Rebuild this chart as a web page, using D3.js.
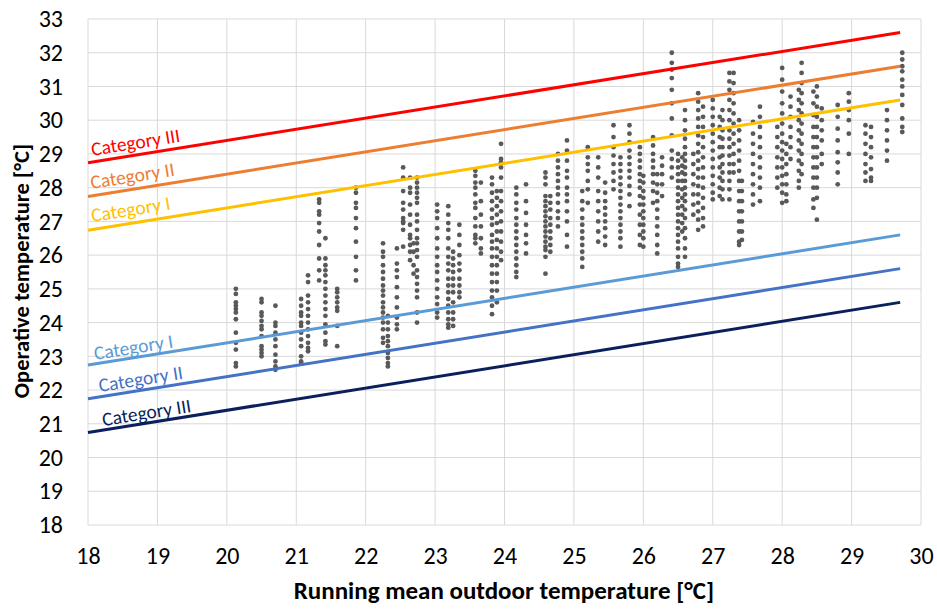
<!DOCTYPE html>
<html><head><meta charset="utf-8">
<script src="https://cdn.jsdelivr.net/npm/d3@7/dist/d3.min.js"></script>
<style>
body{margin:0;background:#fff;}
svg text{font-family:Carlito,Lato,"Open Sans",sans-serif;}
</style></head>
<body><svg id="c" width="937" height="610"></svg>
<script>
// ---- data ----
const xTicks = [18,19,20,21,22,23,24,25,26,27,28,29,30];
const yTicks = [18,19,20,21,22,23,24,25,26,27,28,29,30,31,32,33];

const lineNames  = ["Category III","Category II","Category I","Category I","Category II","Category III"];
const lineColors = ["#FF0000","#ED7D31","#FFC000","#5B9BD5","#4472C4","#0B1F5C"];
const lineStartX = [18,18,18,18,18,18];
const lineEndX   = [29.7,29.7,29.7,29.7,29.7,29.7];
const lineStartY = [28.74,27.74,26.74,22.74,21.74,20.74];
const lineEndY   = [32.6,31.6,30.6,26.6,25.6,24.6];
const labelX     = [18.06,18.05,18.06,18.1,18.17,18.22];
const labelY     = [28.94,27.96,26.98,22.89,21.94,20.93];

const dotX = [20.13,20.5,20.7,21.07,21.17,21.33,21.42,21.59,21.86,22.25,22.32,22.45,22.54,22.64,22.69,22.74,
  23.03,23.19,23.26,23.35,23.58,23.66,23.82,23.89,23.95,24.17,24.31,24.59,24.66,24.77,24.9,
  25.12,25.2,25.35,25.45,25.57,25.67,25.8,25.95,26.0,26.14,26.2,26.27,26.41,26.5,26.56,26.6,26.72,26.79,26.86,
  27.0,27.1,27.14,27.24,27.3,27.38,27.42,27.58,27.68,27.93,28.0,28.06,28.12,28.24,28.28,28.45,28.5,28.57,
  28.8,28.96,29.2,29.28,29.51,29.73];
const dotY = [
  [25.0,24.85,24.6,24.5,24.4,24.3,24.1,23.7,23.4,23.2,22.8,22.7],
  [24.7,24.6,24.3,24.2,24.05,23.9,23.8,23.6,23.3,23.2,23.1,23.0],
  [24.5,24.0,23.9,23.7,23.5,23.3,23.05,22.85,22.7,22.6],
  [24.7,24.5,24.3,24.2,24.0,23.9,23.7,23.5,23.3,23.0,22.85,22.8],
  [25.4,25.2,24.8,24.6,24.4,24.2,24.0,23.8,23.6,23.4,23.25,23.15],
  [27.65,27.55,27.3,27.2,26.95,26.7,26.3,25.9,25.55,25.25],
  [26.5,25.9,25.7,25.55,25.4,25.2,25.0,24.8,24.6,24.4,24.2,23.95,23.7,23.45,23.35],
  [25.0,24.9,24.75,24.6,24.45,24.35,23.9,23.3],
  [28.0,27.85,27.55,27.4,27.1,26.8,26.4,25.95,25.55,25.25],
  [26.35,26.1,25.95,25.7,25.5,25.3,25.1,24.95,24.8,24.6,24.45,24.3,24.15,24.0,23.8,23.55,23.4],
  [24.2,24.0,23.8,23.6,23.45,23.3,23.1,22.95,22.8,22.7],
  [26.2,25.75,25.55,25.35,25.05,24.75,24.45,24.15,23.95,23.8],
  [28.6,28.3,27.9,27.55,27.35,27.1,27.0,26.95,26.75,26.25],
  [28.3,28.0,27.85,27.5,27.2,26.9,26.6,26.5,26.3,26.1,25.85],
  [26.35,26.1,25.7,25.45],
  [28.3,28.15,28.0,27.85,27.7,27.55,27.2,27.0,26.75,26.5,26.35,26.15,25.95,25.55,25.35,25.15,24.95,24.75,24.3,24.0],
  [27.5,27.3,27.1,26.8,26.5,26.2,25.95,25.7,25.5,25.25,25.0,24.75,24.55,24.3,24.15],
  [27.45,27.2,26.95,26.75,26.5,26.2,25.95,25.75,25.55,25.3,25.1,24.9,24.7,24.5,24.3,24.1,23.95,23.85],
  [26.1,25.9,25.7,25.5,25.3,25.1,24.9,24.6,24.3,24.1,23.9],
  [26.9,26.6,26.3,26.0,25.75,25.55,25.3,25.1,24.9,24.75],
  [28.5,28.35,28.15,28.0,27.8,27.55,27.4,27.1,26.85,26.6,26.5,26.35],
  [28.15,27.6,27.2,26.85,26.5,26.2,26.05],
  [28.3,28.1,27.85,27.6,27.35,27.1,26.9,26.6,26.4,26.2,25.95,25.7,25.45,25.2,24.95,24.75,24.5,24.25],
  [27.9,27.7,27.45,27.2,26.95,26.7,26.45,26.2,25.95,25.7,25.45,25.2,24.95,24.6],
  [29.3,28.85,28.75,28.6,28.3,27.9,27.6,27.3,27.0,26.7,26.4,26.1,25.85],
  [28.0,27.8,27.55,27.35,27.1,26.9,26.7,26.5,26.3,26.1,25.9,25.7,25.5,25.35],
  [28.1,27.6,27.25,26.9,26.6,26.35,26.05],
  [28.45,28.3,28.1,27.75,27.6,27.45,27.3,27.15,27.0,26.85,26.7,26.55,26.4,26.25,26.15,25.95,25.45],
  [27.75,27.55,27.35,27.1,26.9,26.7,26.5,26.3,26.1],
  [29.0,28.8,28.6,28.4,28.2,28.0,27.8,27.55,27.3,27.1,26.85],
  [29.4,29.1,28.8,28.5,28.3,28.0,27.8,27.6,27.3,27.0,26.6,26.25],
  [27.9,27.6,27.35,27.1,26.9,26.7,26.5,26.3,26.1,25.9,25.65],
  [29.2,28.9,28.7,28.5,28.2,27.95,27.55],
  [28.9,28.6,28.3,27.9,27.6,27.3,27.0,26.7,26.4],
  [28.15,27.85,27.6,27.4,27.2,27.0,26.8,26.55,26.3],
  [29.85,29.5,29.2,28.95,28.7,28.45,28.2,27.95],
  [28.9,28.7,28.5,28.3,28.1,27.9,27.7,27.5,27.3,27.1,26.9,26.7,26.5,26.25],
  [29.85,29.6,29.35,29.1,28.9,28.7,28.5,28.3,28.05,27.8,27.45],
  [29.2,29.0,28.8,28.6,28.4,28.2,28.0,27.75,27.5,27.2,26.9,26.6,26.3],
  [28.35,28.15,27.9,27.7,27.5,27.3,27.1,26.9,26.7,26.5,26.25],
  [29.5,29.25,29.0,28.8,28.6,28.4,28.15,27.9,27.55],
  [28.4,28.1,27.85,27.6,27.35,27.1,26.85,26.6,26.3,26.05],
  [28.9,28.65,28.4,28.1,27.75],
  [32.0,31.7,31.5,31.25,30.9,30.5,30.05,29.55,29.1,28.85,28.6,28.3],
  [29.0,28.8,28.6,28.4,28.2,28.0,27.8,27.6,27.4,27.2,27.0,26.8,26.6,26.4,26.2,25.95,25.75,25.65],
  [28.9,28.65,28.45,28.2,27.95,27.7,27.45,27.2,26.95,26.7],
  [30.3,30.0,29.7,29.45,29.2,29.0,28.8,28.6,28.4,28.2,28.0,27.8,27.6,27.35,27.1,26.8,26.5,26.2,25.95],
  [29.0,28.7,28.4,28.1,27.8,27.5,27.2],
  [30.8,30.55,30.3,30.05,29.8,29.55,29.3,29.05,28.8,28.55,28.3,28.05,27.8,27.55,27.3,27.05,26.75],
  [30.4,30.1,29.8,29.5,29.2,28.9,28.6,28.3,28.0,27.7,27.4,27.1,26.85],
  [30.6,30.35,30.1,29.85,29.6,29.35,29.1,28.85,28.6,28.35,28.1,27.85,27.65],
  [30.1,29.8,29.5,29.2,28.9,28.6,28.3,28.0,27.75],
  [30.3,30.0,29.7,29.45,29.2,28.95,28.7,28.45,28.2,27.95,27.65],
  [31.4,31.15,30.9,30.6,30.3,30.0,29.7,29.45,29.2,28.95,28.7,28.45,28.2,27.95,27.65],
  [31.4,31.1,30.8,30.5,30.2,29.9,29.6,29.3,29.0,28.7,28.45],
  [30.0,29.7,29.4,29.1,28.8,28.5,28.2,27.9,27.6,27.3,27.0,26.7,26.4,26.3],
  [28.2,27.9,27.6,27.3,27.0,26.7,26.45],
  [29.95,29.6,29.3,29.0,28.7,28.4,28.1,27.8,27.5],
  [30.4,30.1,29.8,29.5,29.2,28.9,28.6,28.3,28.0,27.6],
  [29.8,29.5,29.2,28.9,28.6,28.3,28.0],
  [31.55,31.2,30.85,30.5,30.2,29.9,29.6,29.35,29.1,28.85,28.6,28.35,28.1,27.85,27.55],
  [29.3,29.0,28.7,28.4,28.1,27.8,27.6],
  [30.7,30.4,30.1,29.8,29.5,29.2,28.85],
  [30.9,30.6,30.3,30.0,29.7,29.4,29.1,28.8,28.5,28.2,28.0],
  [31.7,31.4,31.1,30.8,30.5,30.2,29.9,29.6,29.3,29.0,28.7,28.4],
  [30.85,30.5,30.15,29.8,29.5,29.2,28.9,28.6,28.3,28.0,27.65,27.4],
  [31.0,30.7,30.4,30.1,29.8,29.5,29.2,28.9,28.6,28.3,28.0,27.7,27.05],
  [30.35,30.0,29.7,29.4,29.0,28.7],
  [30.45,30.1,29.75,29.4,29.05,28.75,28.45,28.1],
  [30.8,30.55,30.3,30.0,29.6,29.0],
  [29.85,29.6,29.3,29.0,28.7,28.45,28.2],
  [29.8,29.5,29.2,28.9,28.55,28.3,28.2],
  [30.3,30.0,29.7,29.4,29.1,28.8],
  [32.0,31.8,31.6,31.45,31.2,31.0,30.75,30.45,30.05,29.8,29.65]
];

const xTitle = "Running mean outdoor temperature [°C]";
const yTitle = "Operative temperature [°C]";

// ---- chart ----
const svg = d3.select("#c");
const m = {l:88, r:15, t:19, b:85};
const W = 937, H = 610;
const x = d3.scaleLinear().domain([18,30]).range([m.l, W - m.r - 1]);
const y = d3.scaleLinear().domain([18,33]).range([H - m.b, m.t]);

const grid = svg.append("g");
grid.selectAll("line.v").data(xTicks).join("line")
  .attr("x1", d=>x(d)).attr("x2", d=>x(d)).attr("y1", y(18)).attr("y2", y(33))
  .attr("stroke", "#d9d9d9").attr("stroke-width", 1);
grid.selectAll("line.h").data(yTicks).join("line")
  .attr("y1", d=>y(d)).attr("y2", d=>y(d)).attr("x1", x(18)).attr("x2", x(30))
  .attr("stroke", "#d9d9d9").attr("stroke-width", 1);

const xAxis = svg.append("g").attr("transform", `translate(0,${y(18)})`)
  .call(d3.axisBottom(x).tickValues(xTicks).tickSize(0).tickPadding(22).tickFormat(d3.format("d")));
xAxis.select(".domain").remove();
xAxis.selectAll("text").attr("font-size", 24).attr("fill", "#000");

const yAxis = svg.append("g").attr("transform", `translate(${x(18)},0)`)
  .call(d3.axisLeft(y).tickValues(yTicks).tickSize(0).tickPadding(25).tickFormat(d3.format("d")));
yAxis.select(".domain").remove();
yAxis.selectAll("text").attr("font-size", 24).attr("fill", "#000");

// dots
const pts = [];
dotX.forEach((xv,i)=>dotY[i].forEach(yv=>pts.push([xv,yv])));
svg.append("g").selectAll("circle").data(pts).join("circle")
  .attr("cx", d=>x(d[0])).attr("cy", d=>y(d[1])).attr("r", 2.4).attr("fill", "#595959");

// lines and labels
lineNames.forEach((name,i)=>{
  svg.append("line")
    .attr("x1", x(lineStartX[i])).attr("y1", y(lineStartY[i]))
    .attr("x2", x(lineEndX[i])).attr("y2", y(lineEndY[i]))
    .attr("stroke", lineColors[i]).attr("stroke-width", 3);
  const ang = Math.atan2(y(lineEndY[i]) - y(lineStartY[i]), x(lineEndX[i]) - x(lineStartX[i])) * 180 / Math.PI;
  svg.append("text")
    .attr("transform", `translate(${x(labelX[i])},${y(labelY[i])}) rotate(${ang})`)
    .attr("font-size", 19.5).attr("fill", lineColors[i]).text(name);
});

// titles
svg.append("text").attr("x", 504).attr("y", 599).attr("text-anchor","middle")
  .attr("font-size", 25).attr("font-weight","bold").text(xTitle);
svg.append("text").attr("transform", "translate(29,271) rotate(-90)").attr("text-anchor","middle")
  .attr("font-size", 22.5).attr("font-weight","bold").text(yTitle);
</script></body></html>
